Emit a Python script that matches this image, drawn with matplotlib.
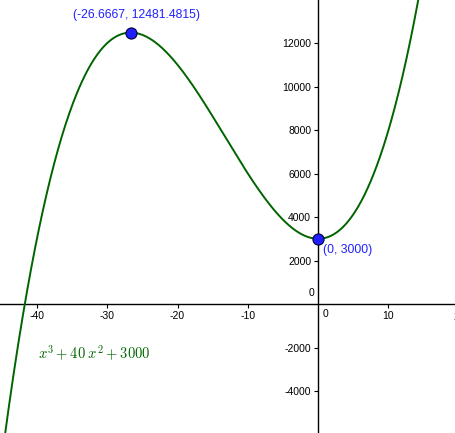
import matplotlib.pyplot as plt
import numpy as np

# cubic: x^3 + 40 x^2 + 3000
coeffs = [1, 40, 0, 3000]
formula = r"$x^3+40\;x^2+3000$"

# labelled points
pt_x = [-26.6667, 0]
pt_y = [12481.4815, 3000]
pt_labels = ["(-26.6667, 12481.4815)", "(0, 3000)"]

x_ticks = [-40, -30, -20, -10, 10]
y_ticks = [-4000, -2000, 2000, 4000, 6000, 8000, 10000, 12000]

xmin, xmax = -45.25, 19.6
ymin, ymax = -5930, 13980

green = "#006400"
blue = "#2020ff"

plt.rcParams["font.family"] = ["Liberation Sans", "DejaVu Sans"]
plt.rcParams["mathtext.fontset"] = "cm"

fig = plt.figure(figsize=(4.56, 4.33), dpi=100)
ax = fig.add_axes([0, 0, 1, 1])
ax.set_xlim(xmin, xmax)
ax.set_ylim(ymin, ymax)

xs = np.linspace(xmin, xmax, 600)
ax.plot(xs, np.polyval(coeffs, xs), color=green, lw=1.4, zorder=3)

# axes through the origin, GeoGebra style
for side in ["top", "right"]:
    ax.spines[side].set_visible(False)
ax.spines["left"].set_position(("data", 0))
ax.spines["bottom"].set_position(("data", 0))
ax.spines["left"].set_linewidth(1.0)
ax.spines["bottom"].set_linewidth(1.0)

ax.set_xticks(x_ticks)
ax.set_yticks(y_ticks)
ax.set_xticklabels([str(v) for v in x_ticks])
ax.set_yticklabels([str(v) for v in y_ticks])
ax.tick_params(axis="both", direction="out", length=3, width=0.8,
               labelsize=7.5, pad=2)

# zero labels and the clipped "20" at the right edge
ax.text(0.7, -250, "0", fontsize=7.5, ha="left", va="top")
ax.text(-0.5, 280, "0", fontsize=7.5, ha="right", va="bottom")
ax.text(20, -350, "20", fontsize=7.5, ha="center", va="top")

ax.plot(pt_x, pt_y, "o", ms=8, mfc=blue, mec="#000033", mew=0.8,
        zorder=5, clip_on=False)
ax.annotate(pt_labels[0], (pt_x[0], pt_y[0]), xytext=(4.5, 13),
            textcoords="offset points", ha="center", va="center",
            fontsize=8.8, color=blue)
ax.annotate(pt_labels[1], (pt_x[1], pt_y[1]), xytext=(3.5, -8),
            textcoords="offset points", ha="left", va="center",
            fontsize=8.8, color=blue)

ax.text(-39.8, -2250, formula, color=green, fontsize=10.5,
        ha="left", va="center")

fig.savefig("out.png", dpi=100)
